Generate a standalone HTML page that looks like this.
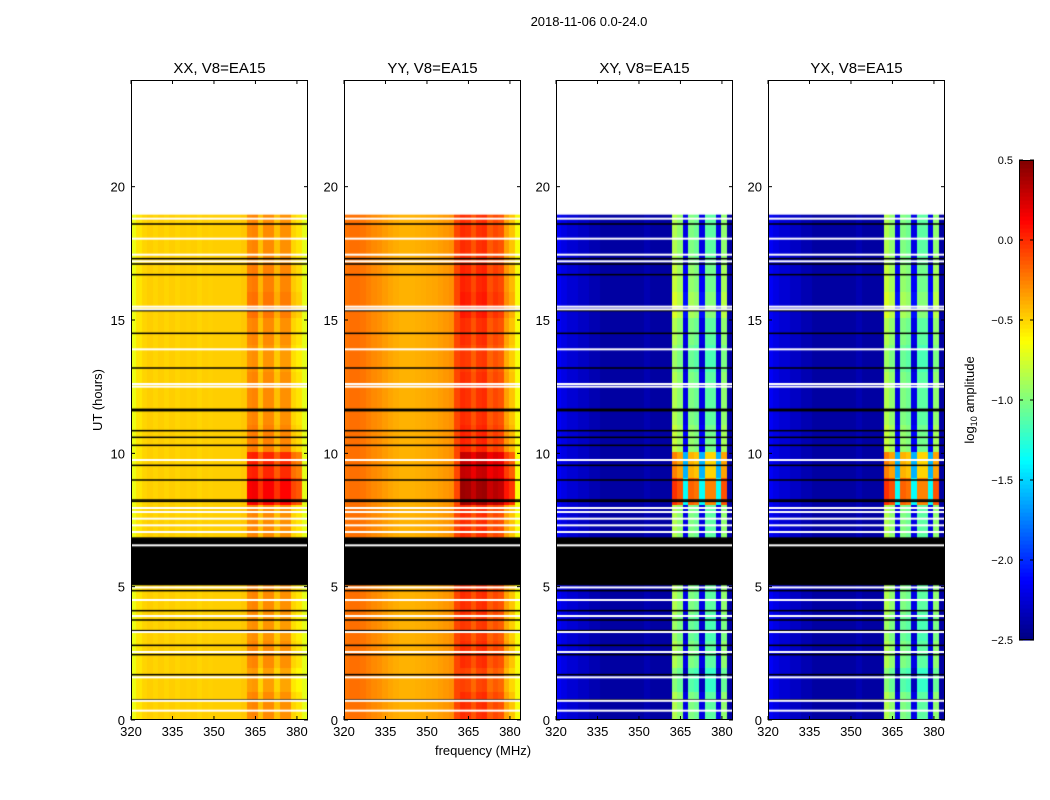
<!DOCTYPE html>
<html><head><meta charset="utf-8"><style>
body{margin:0;background:#fff;width:1050px;height:800px;overflow:hidden;font-family:"Liberation Sans",sans-serif;position:relative;}
#panels{position:absolute;left:0;top:0;z-index:0;}
#fig{position:absolute;left:0;top:0;z-index:1;}
</style></head><body>
<div id="panels"></div>
<svg id="fig" width="1050" height="800" xmlns="http://www.w3.org/2000/svg">
<text x="589" y="26" font-size="13" text-anchor="middle">2018-11-06 0.0-24.0</text>
<text transform="translate(102,400) rotate(-90)" font-size="13" text-anchor="middle">UT (hours)</text>
<text x="483" y="755" font-size="13" text-anchor="middle">frequency (MHz)</text>
<g id="cbar"></g>
<text transform="translate(974,400) rotate(-90)" font-size="13" text-anchor="middle">log<tspan font-size="9" dy="3">10</tspan><tspan dy="-3"> amplitude</tspan></text>
</svg>
<script>
// ---- data ----
const panelTitles = ["XX, V8=EA15","YY, V8=EA15","XY, V8=EA15","YX, V8=EA15"];
const freqTicks = [320,335,350,365,380];
const timeTicks = [0,5,10,15,20];
const cbarTicks = [0.5,0.0,-0.5,-1.0,-1.5,-2.0,-2.5];
// 32 channels of 2 MHz from 320 to 384, log10 amplitude
const profXX = [-0.68,-0.55,-0.5,-0.48,-0.5,-0.48,-0.5,-0.48,-0.5,-0.48,-0.49,-0.48,-0.5,-0.48,-0.49,-0.48,-0.48,-0.48,-0.48,-0.48,-0.46,-0.28,-0.26,-0.44,-0.28,-0.28,-0.44,-0.3,-0.3,-0.5,-0.55,-0.7];
const profYY = [-0.22,-0.2,-0.2,-0.22,-0.25,-0.28,-0.3,-0.33,-0.36,-0.38,-0.4,-0.4,-0.4,-0.39,-0.38,-0.37,-0.36,-0.34,-0.32,-0.3,-0.08,0.0,-0.02,-0.12,-0.02,0.0,-0.14,-0.08,-0.12,-0.35,-0.45,-0.65];
const profXY = [-2.15,-2.2,-2.25,-2.25,-2.3,-2.3,-2.35,-2.35,-2.4,-2.4,-2.4,-2.4,-2.4,-2.4,-2.4,-2.4,-2.35,-2.4,-2.4,-2.4,-2.4,-0.85,-0.95,-2.2,-1.0,-1.05,-2.2,-1.1,-1.1,-2.2,-0.95,-2.4];
const profYX = [-2.15,-2.2,-2.25,-2.25,-2.3,-2.3,-2.35,-2.35,-2.4,-2.4,-2.4,-2.4,-2.4,-2.4,-2.4,-2.4,-2.35,-2.4,-2.4,-2.4,-2.4,-0.85,-0.95,-2.2,-1.0,-1.05,-2.2,-1.1,-1.1,-2.2,-0.95,-2.4];
// band (362-381 MHz) offset per hour, hours 0..18
const bandOffsetHour = [0.0,-0.1,0.0,-0.05,0.0,0.15,0,0,0.7,0.5,0.05,0.0,0.0,-0.05,0.0,0.1,0.05,0.0,0.0];
const dataEnd = 18.95;
const blackBlocks = [[5.05,6.85]];
const whiteGaps = [0.35,0.72,1.6,2.55,3.3,3.9,4.5,4.97,6.55,7.05,7.3,7.55,7.8,7.95,9.75,12.5,12.6,13.9,15.4,15.5,17.2,17.45,18.05,18.8];
const blackLines = [0.75,1.7,2.45,2.8,3.35,3.75,4.1,4.5,4.85,8.2,8.25,9.0,9.55,10.3,10.6,10.85,11.6,11.65,13.2,14.5,15.35,16.7,17.1,17.3,18.6];
const profiles = [profXX,profYY,profXY,profYX];

// ---- layout ----
const panelX = [131,344,556,768], PW=177, PT=80, PB=720;
const fmin=320,fmax=384,tmin=0,tmax=24;
const xs=(f,i)=>panelX[i]+(f-fmin)/(fmax-fmin)*PW;
const ys=t=>PB-(t-tmin)/(tmax-tmin)*(PB-PT);
function jet(v){let x=(v+2.5)/3;x=Math.max(0,Math.min(1,x));
 const c=a=>Math.round(255*Math.max(0,Math.min(1,a)));
 return `rgb(${c(Math.min(4*x-1.5,-4*x+4.5))},${c(Math.min(4*x-0.5,-4*x+3.5))},${c(Math.min(4*x+0.5,-4*x+2.5))})`;}
const svg=document.getElementById('fig');const NS='http://www.w3.org/2000/svg';
function mk(tag,attrs,parent){const e=document.createElementNS(NS,tag);for(const k in attrs)e.setAttribute(k,attrs[k]);(parent||svg).appendChild(e);return e;}

profiles.forEach((prof,i)=>{
 const g=mk('g',{});
 
 
 const cv=document.createElement('canvas');cv.width=PW;cv.height=PB-PT;
 cv.style.cssText=`position:absolute;left:${panelX[i]}px;top:${PT}px;`;
 
 
 document.getElementById('panels').appendChild(cv);
 const ctx=cv.getContext('2d');
 const dt=0.1;
 for(let t=0;t<dataEnd-1e-9;t+=dt){
  const h=Math.min(18,Math.floor(t));
  for(let c=0;c<prof.length;c++){
   const f=fmin+c*2;
   let v=prof[c];
   if(f>=362&&f<382) v+=bandOffsetHour[h]*(i>=2?1.2:0.6);
   ctx.fillStyle=jet(v);
   const x0=xs(f,i)-panelX[i],x1=xs(f+2,i)-panelX[i];
   const y0=ys(t+dt)-PT,y1=ys(t)-PT;
   ctx.fillRect(Math.floor(x0),Math.floor(y0),Math.ceil(x1-x0)+1,Math.ceil(y1-y0)+1);
  }
 }
 ctx.fillStyle='#000';
 blackBlocks.forEach(b=>{ctx.fillRect(0,ys(b[1])-PT,PW,ys(b[0])-ys(b[1]));});
 blackLines.forEach(t=>ctx.fillRect(0,ys(t)-PT-0.75,PW,1.5));
 ctx.fillStyle='#fff';
 whiteGaps.forEach(t=>ctx.fillRect(0,ys(t)-PT-1,PW,2));
 ctx.fillRect(0,0,PW,ys(dataEnd)-PT);
 const fr=mk('rect',{x:panelX[i]+0.5,y:PT+0.5,width:PW-1,height:PB-PT-1,fill:'none',stroke:'#000','stroke-width':1},g);
 
 const tt=mk('text',{x:panelX[i]+PW/2,y:73,'font-size':15,'text-anchor':'middle'},g);
 tt.textContent=panelTitles[i];
 
 freqTicks.forEach(f=>{const x=xs(f,i);
  mk('line',{x1:x,x2:x,y1:PB,y2:PB-4,stroke:'#000'},g);mk('line',{x1:x,x2:x,y1:PT,y2:PT+4,stroke:'#000'},g);
  const l=mk('text',{x:x,y:PB+16,'font-size':13,'text-anchor':'middle'},g);l.textContent=f;
  });
 timeTicks.forEach(t=>{const y=ys(t);
  mk('line',{x1:panelX[i],x2:panelX[i]+4,y1:y,y2:y,stroke:'#000'},g);mk('line',{x1:panelX[i]+PW,x2:panelX[i]+PW-4,y1:y,y2:y,stroke:'#000'},g);
  const l=mk('text',{x:panelX[i]-6,y:y+5,'font-size':13,'text-anchor':'end'},g);l.textContent=t;
  });
});
// colorbar
const cb=document.getElementById('cbar');const CX=1019,CW=15,CT=160,CB=640;
for(let k=0;k<120;k++){const v=-2.5+3*(k+0.5)/120;const y0=CB-(k+1)*(CB-CT)/120;
 const r=mk('rect',{x:CX,y:y0,width:CW,height:(CB-CT)/120+0.6,fill:jet(v)},cb);
 }
mk('rect',{x:CX+0.5,y:CT+0.5,width:CW-1,height:CB-CT-1,fill:'none',stroke:'#000'},cb);
cbarTicks.forEach(v=>{const y=CB-(v+2.5)/3*(CB-CT);
 mk('line',{x1:CX,x2:CX+4,y1:y,y2:y,stroke:'#000'},cb);mk('line',{x1:CX+CW,x2:CX+CW-4,y1:y,y2:y,stroke:'#000'},cb);
 const l=mk('text',{x:1013,y:y+4,'font-size':11,'text-anchor':'end'},cb);l.textContent=(v<0?'\u2212':'')+Math.abs(v).toFixed(1);
 });
</script>
</body></html>
